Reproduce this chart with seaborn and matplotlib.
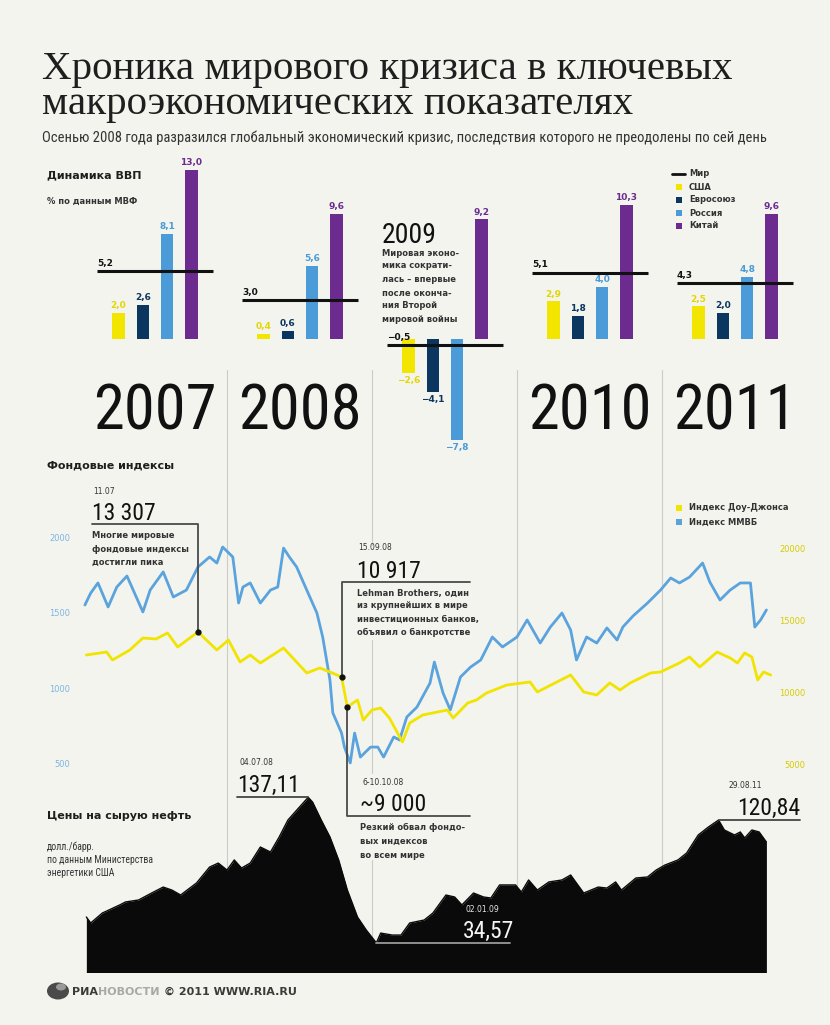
import matplotlib
matplotlib.use('Agg')
import matplotlib.pyplot as plt
import matplotlib.font_manager as fm
from matplotlib.patches import Rectangle, Ellipse
import seaborn as sns
import numpy as np
import pandas as pd

# ---- GDP growth, % (IMF)
gdp_years = ['2007', '2008', '2009', '2010', '2011']
regions = ['США', 'Евросоюз', 'Россия', 'Китай']
gdp_world = [5.2, 3.0, -0.5, 5.1, 4.3]
gdp_usa = [2.0, 0.4, -2.6, 2.9, 2.5]
gdp_eu = [2.6, 0.6, -4.1, 1.8, 2.0]
gdp_russia = [8.1, 5.6, -7.8, 4.0, 4.8]
gdp_china = [13.0, 9.6, 9.2, 10.3, 9.6]

# ---- stock indices (time in decimal years)
micex_t = [2007.02, 2007.06, 2007.11, 2007.18, 2007.24, 2007.31, 2007.42, 2007.47, 2007.56, 2007.63,
           2007.72, 2007.80, 2007.88, 2007.93, 2007.97, 2008.04, 2008.08, 2008.11, 2008.16, 2008.23,
           2008.30, 2008.35, 2008.39, 2008.43, 2008.48, 2008.55, 2008.62, 2008.66, 2008.71, 2008.73,
           2008.79, 2008.81, 2008.85, 2008.88, 2008.92, 2008.99, 2009.04, 2009.08, 2009.15, 2009.19,
           2009.24, 2009.31, 2009.40, 2009.43, 2009.49, 2009.54, 2009.61, 2009.68, 2009.75, 2009.83,
           2009.90, 2010.00, 2010.07, 2010.16, 2010.23, 2010.31, 2010.37, 2010.41, 2010.48, 2010.55,
           2010.62, 2010.69, 2010.73, 2010.80, 2010.90, 2010.99, 2011.06, 2011.12, 2011.19, 2011.28,
           2011.33, 2011.40, 2011.47, 2011.54, 2011.61, 2011.64, 2011.68, 2011.72]
micex_v = [1553, 1632, 1699, 1540, 1672, 1745, 1507, 1652, 1772, 1606,
           1652, 1805, 1871, 1831, 1937, 1871, 1566, 1672, 1699, 1566,
           1652, 1672, 1930, 1871, 1805, 1652, 1500, 1341, 1056, 838,
           705, 612, 507, 705, 546, 612, 612, 546, 679, 659,
           811, 877, 1036, 1175, 970, 858, 1076, 1142, 1189, 1341,
           1275, 1341, 1454, 1301, 1407, 1500, 1387, 1189, 1341, 1301,
           1401, 1321, 1407, 1480, 1566, 1652, 1732, 1699, 1738, 1831,
           1705, 1586, 1652, 1699, 1699, 1407, 1454, 1520]
dow_t = [2007.03, 2007.17, 2007.21, 2007.33, 2007.42, 2007.51, 2007.59, 2007.66, 2007.80, 2007.93,
         2008.01, 2008.09, 2008.16, 2008.23, 2008.39, 2008.55, 2008.64, 2008.71, 2008.79, 2008.83,
         2008.90, 2008.94, 2009.00, 2009.06, 2009.12, 2009.21, 2009.26, 2009.35, 2009.52, 2009.56,
         2009.66, 2009.72, 2009.79, 2009.93, 2010.09, 2010.14, 2010.37, 2010.46, 2010.55, 2010.64,
         2010.71, 2010.78, 2010.92, 2010.99, 2011.12, 2011.19, 2011.26, 2011.38, 2011.47, 2011.52,
         2011.57, 2011.62, 2011.66, 2011.70, 2011.75]
dow_v = [12639, 12847, 12292, 12986, 13819, 13750, 14167, 13194, 14236, 12986,
         13681, 12153, 12639, 12083, 13125, 11389, 11736, 11458, 11111, 9028,
         9514, 8125, 8819, 8958, 8264, 6597, 7917, 8472, 8819, 8264,
         9306, 9514, 10000, 10556, 10764, 10069, 11250, 10069, 9861, 10694,
         10208, 10694, 11389, 11458, 12083, 12500, 11806, 12847, 12431, 12083,
         12778, 12500, 10903, 11458, 11250]

# ---- crude oil, $/bbl
oil_t = [2007.03, 2007.06, 2007.14, 2007.26, 2007.30, 2007.39, 2007.48, 2007.56, 2007.62, 2007.68,
         2007.79, 2007.88, 2007.94, 2008.00, 2008.05, 2008.10, 2008.16, 2008.23, 2008.30, 2008.36,
         2008.42, 2008.50, 2008.56, 2008.59, 2008.65, 2008.71, 2008.77, 2008.83, 2008.90, 2008.96,
         2009.03, 2009.06, 2009.14, 2009.20, 2009.26, 2009.36, 2009.42, 2009.51, 2009.57, 2009.62,
         2009.70, 2009.77, 2009.82, 2009.88, 2009.99, 2010.03, 2010.08, 2010.14, 2010.22, 2010.31,
         2010.37, 2010.46, 2010.56, 2010.62, 2010.68, 2010.72, 2010.82, 2010.90, 2010.96, 2011.02,
         2011.11, 2011.17, 2011.25, 2011.32, 2011.39, 2011.43, 2011.50, 2011.54, 2011.57, 2011.62,
         2011.67, 2011.72]
oil_v = [52.8, 48.6, 55.6, 61.3, 63.4, 64.8, 69.7, 73.9, 71.8, 68.3,
         76.8, 88.0, 90.8, 85.9, 93.0, 87.3, 90.8, 102.1, 98.6, 109.2,
         121.1, 130.3, 137.1, 133.8, 121.1, 109.2, 93.0, 71.8, 52.8, 43.7,
         34.6, 41.5, 40.1, 40.1, 48.6, 50.7, 55.6, 68.3, 66.9, 61.3,
         69.7, 66.9, 66.2, 75.4, 75.4, 70.4, 78.9, 71.8, 77.5, 78.9,
         82.4, 69.7, 73.9, 73.2, 77.5, 71.8, 80.3, 81.0, 85.9, 89.4,
         93.0, 97.9, 110.6, 116.2, 121.1, 114.1, 110.6, 112.7, 108.5, 114.1,
         112.7, 105.6]

W, H = 830, 1025
BG = '#f4f4ef'
colors = ['#f2e500', '#0b365f', '#4a9bd8', '#6c2b8f']
MICEX_C = '#5aa3dd'
DOW_C = '#f0e400'

sns.set_theme(style='white')
have = {f.name for f in fm.fontManager.ttflist}
NARROW = next((n for n in ['Liberation Sans Narrow', 'Roboto Condensed', 'Open Sans Condensed']
               if n in have), 'DejaVu Sans')
SERIF = 'Liberation Serif' if 'Liberation Serif' in have else 'DejaVu Serif'
plt.rcParams['font.family'] = ['DejaVu Sans']

fig = plt.figure(figsize=(W / 100, H / 100), dpi=100, facecolor=BG)


def box(l, t, r, b, z=1):
    ax = fig.add_axes([l / W, 1 - b / H, (r - l) / W, (b - t) / H], zorder=z)
    ax.patch.set_visible(False)
    return ax


def canvas(z):
    ax = box(0, 0, W, H, z)
    ax.set_xlim(0, W)
    ax.set_ylim(H, 0)
    ax.axis('off')
    return ax


def to_canvas(ax, x, y):
    X, Y = ax.transData.transform((x, y))
    return X, H - Y


bg = canvas(0)
fg = canvas(10)

# ---------------- GDP bars ----------------
ax_g = box(82.5, 150, 807.5, 460, z=2)
gdp = pd.DataFrame({
    'year': gdp_years * 4,
    'region': [r for r in regions for _ in gdp_years],
    'value': gdp_usa + gdp_eu + gdp_russia + gdp_china,
})
sns.barplot(data=gdp, x='year', y='value', hue='region', order=gdp_years, hue_order=regions,
            palette=dict(zip(regions, colors)), width=0.67, gap=0.48, saturation=1,
            errorbar=None, legend=False, linewidth=0, ax=ax_g)
ax_g.set_xlim(-0.5, 4.5)
ax_g.set_ylim(-9.31, 14.54)
ax_g.axis('off')


def fmt(v):
    return f'{v:.1f}'.replace('.', ',').replace('-', '−')


for cont, vals, c in zip(ax_g.containers, [gdp_usa, gdp_eu, gdp_russia, gdp_china], colors):
    lc = '#e3d600' if c == colors[0] else c
    ax_g.bar_label(cont, labels=[fmt(v) for v in vals], padding=2, color=lc,
                   fontsize=6.5, fontweight='bold')

xs = np.arange(len(gdp_years))
ax_g.hlines(gdp_world, xs - 0.4, xs + 0.4, color='#111111', lw=2.2, zorder=5)
for i, w in enumerate(gdp_world):
    ax_g.annotate(fmt(w), (i - 0.4, w), xytext=(0, 2.5), textcoords='offset points',
                  ha='left', va='bottom', fontsize=6.5, fontweight='bold', color='#111111')

for i, yr in enumerate(gdp_years):
    if yr == '2009':
        continue
    cx = to_canvas(ax_g, i, 0)[0]
    fg.text(cx, 429, yr, ha='center', va='baseline', family=NARROW, size=45, color='#111111')

# ---------------- stock indices ----------------
x_end = 2007 + (775 - 82) / 145
ax_s = box(82, 470, 775, 780, z=3)
sns.lineplot(x=micex_t, y=micex_v, color=MICEX_C, lw=2, ax=ax_s)
ax_d = ax_s.twinx()
ax_d.patch.set_visible(False)
sns.lineplot(x=dow_t, y=dow_v, color=DOW_C, lw=2, ax=ax_d)
ax_s.set_xlim(2007, x_end)
ax_s.set_ylim(394, 2447)
ax_d.set_ylim(3958, 25486)
for a in (ax_s, ax_d):
    for sp in a.spines.values():
        sp.set_visible(False)
    a.set_xlabel('')
    a.set_ylabel('')
    a.set_xticks([])
ax_s.set_yticks([500, 1000, 1500, 2000])
ax_s.tick_params(axis='y', length=0, pad=8.5, labelsize=6, labelcolor='#7db5e2')
ax_d.set_yticks([5000, 10000, 15000, 20000])
ax_d.tick_params(axis='y', length=0, pad=22, labelsize=6, labelcolor='#d3cc00')
for lab in ax_d.get_yticklabels():
    lab.set_ha('right')

# ---------------- oil ----------------
ax_o = box(82, 760, 775, 972, z=2)
ax_o.fill_between(oil_t, oil_v, 0, color='#0a0a0a', lw=0)
sns.lineplot(x=oil_t, y=oil_v, color='#0a0a0a', lw=1, ax=ax_o)
ax_o.set_xlim(2007, x_end)
ax_o.set_ylim(14.08, 163.4)
ax_o.axis('off')

# year separators
for yr in [2008, 2009, 2010, 2011]:
    x = to_canvas(ax_s, yr, 1000)[0]
    segs = [(370, 545), (640, 773), (860, 972)] if yr == 2009 else [(370, 972)]
    for y0, y1 in segs:
        bg.plot([x, x], [y0, y1], color='#cdcdc8', lw=0.8)

# ---------------- texts ----------------
fg.text(42, 79, 'Хроника мирового кризиса в ключевых', family=SERIF, size=29.5,
        va='baseline', color='#1e1e1e')
fg.text(42, 114, 'макроэкономических показателях', family=SERIF, size=29.5,
        va='baseline', color='#1e1e1e')
fg.text(42, 142, 'Осенью 2008 года разразился глобальный экономический кризис, '
        'последствия которого не преодолены по сей день',
        family=NARROW, size=10.5, va='baseline', color='#333333')

small = dict(size=6, weight='bold', color='#333333', va='center')


def para(x, ys, lines, **kw):
    for y, s in zip(ys, lines):
        fg.text(x, y, s, **kw)


fg.text(47, 175, 'Динамика ВВП', size=8, weight='bold', va='center', color='#1e1e1e')
fg.text(47, 201, '% по данным МВФ', **small)

# gdp legend
leg_y = [174, 187, 200, 213, 226]
fg.plot([672, 685], [174, 174], color='#111111', lw=2)
for y, c in zip(leg_y[1:], colors):
    fg.add_patch(Rectangle((676, y - 3), 6, 6, color=c, lw=0))
for y, s in zip(leg_y, ['Мир'] + regions):
    fg.text(689, y, s, **small)

fg.text(382, 243, '2009', family=NARROW, size=20, va='baseline', color='#111111')
para(382, [253, 266, 280, 293, 306, 319],
     ['Мировая эконо-', 'мика сократи-', 'лась – впервые', 'после оконча-',
      'ния Второй', 'мировой войны'], **small)

fg.text(47, 466, 'Фондовые индексы', size=8, weight='bold', va='center', color='#1e1e1e')
for y, c, s in zip([508, 522], [DOW_C, MICEX_C], ['Индекс Доу-Джонса', 'Индекс ММВБ']):
    fg.add_patch(Rectangle((676, y - 3), 6, 6, color=c, lw=0))
    fg.text(689, y, s, **small)

big = dict(family=NARROW, size=17, va='baseline', color='#111111')
date = dict(size=5.5, color='#333333', va='baseline')
frame = dict(color='#4a4a4a', lw=1.3)
dot = dict(marker='o', ms=3.5, color='#111111', ls='none')

# peak of indices
p = to_canvas(ax_d, dow_t[8], dow_v[8])
fg.plot([92, p[0], p[0]], [524, 524, p[1]], **frame)
fg.plot(*p, **dot)
fg.text(93, 494, '11.07', **date)
fg.text(92, 520, '13 307', **big)
para(92, [535, 549, 562], ['Многие мировые', 'фондовые индексы', 'достигли пика'], **small)

# Lehman
q = to_canvas(ax_d, dow_t[18], dow_v[18])
fg.plot([470, q[0], q[0]], [582, 582, q[1]], **frame)
fg.plot(*q, **dot)
fg.text(358, 550, '15.09.08', **date)
fg.text(357, 578, '10 917', **big)
para(357, [593, 606, 619, 632],
     ['Lehman Brothers, один', 'из крупнейших в мире', 'инвестиционных банков,',
      'объявил о банкротстве'], **small)

# crash
r = to_canvas(ax_d, dow_t[19], dow_v[19])
fg.plot([r[0], r[0], 470], [r[1], 816, 816], **frame)
fg.plot(*r, **dot)
fg.text(362, 785, '6-10.10.08', **date)
fg.text(360, 811, '~9 000', **big)
para(360, [827, 841, 855], ['Резкий обвал фондо-', 'вых индексов', 'во всем мире'], **small)

# oil
fg.text(47, 816, 'Цены на сырую нефть', size=8, weight='bold', va='center', color='#1e1e1e')
para(47, [847, 860, 873], ['долл./барр.', 'по данным Министерства', 'энергетики США'],
     family=NARROW, size=7, color='#333333', va='center')

s = to_canvas(ax_o, oil_t[22], oil_v[22])
fg.plot([237, s[0]], [s[1], s[1]], color='#444444', lw=1.3)
fg.text(239, 765, '04.07.08', **date)
fg.text(237, 792, '137,11', **big)

m = to_canvas(ax_o, oil_t[30], oil_v[30])
fg.plot([m[0], 510], [m[1], m[1]], color='#9a9a9a', lw=1.3)
fg.text(465, 912, '02.01.09', size=5.5, color='#e8e8e8', va='baseline')
fg.text(463, 938, '34,57', family=NARROW, size=17, va='baseline', color='#f4f4f4')

n = to_canvas(ax_o, oil_t[64], oil_v[64])
fg.plot([n[0], 800], [n[1], n[1]], color='#444444', lw=1.3)
fg.text(728, 788, '29.08.11', **date)
fg.text(800, 815, '120,84', ha='right', **big)

# footer
fg.add_patch(Ellipse((58, 991), 22, 17, color='#4a4a4a', lw=0))
fg.add_patch(Ellipse((61, 987), 10, 7, color='#9a9a9a', lw=0))
t1 = fg.text(72, 992, 'РИА', size=8, weight='bold', color='#3a3a3a', va='center')
t2 = fg.annotate('НОВОСТИ', xy=(1, 0.5), xycoords=t1, size=8, weight='bold',
                 color='#a8a8a8', va='center', ha='left')
fg.annotate(' © 2011 WWW.RIA.RU', xy=(1, 0.5), xycoords=t2, size=8, weight='bold',
            color='#3a3a3a', va='center', ha='left')

fig.savefig('out.png', dpi=100, facecolor=BG)
